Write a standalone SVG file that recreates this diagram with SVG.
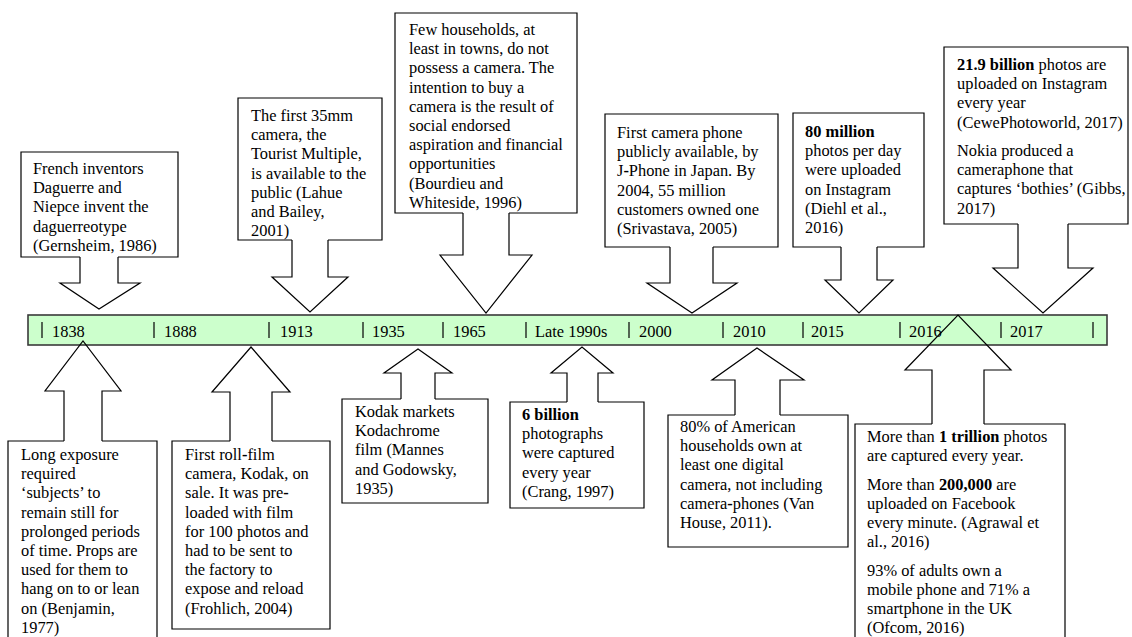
<svg xmlns="http://www.w3.org/2000/svg" width="1132" height="637" viewBox="0 0 1132 637">
<style>
.box{fill:#fff;stroke:#000;stroke-width:1.2;stroke-linejoin:miter}
.arr{fill:#fff;stroke:#000;stroke-width:1.2;stroke-linejoin:miter}
.open{fill:none}
.t{font-family:"Liberation Serif","Times New Roman",serif;font-size:16.4px;fill:#000}
.b{font-weight:bold}
.bar{fill:#ccffcc;stroke:#3a3a3a;stroke-width:1.6}
.tick{stroke:#000;stroke-width:1.2;fill:none}
</style>
<rect x="0" y="0" width="1132" height="637" fill="#fff"/>
<g id="timeline">
<rect class="bar" x="28" y="315" width="1079" height="30"/>
<path class="tick" d="M42 322V338M154 322V338M269 322V338M363 322V338M443 322V338M526 322V338M629 322V338M723 322V338M803 322V338M900 322V338M1001 322V338M1093 322V338"/>
<text class="t" y="337"><tspan x="52">1838</tspan><tspan x="164">1888</tspan><tspan x="280">1913</tspan><tspan x="372">1935</tspan><tspan x="453">1965</tspan><tspan x="535">Late 1990s</tspan><tspan x="639">2000</tspan><tspan x="733">2010</tspan><tspan x="811">2015</tspan><tspan x="909">2016</tspan><tspan x="1010">2017</tspan></text>
</g>
<g id="connectors">
<path class="arr" d="M80 257V283H60L99 309L140 283H118V257"/>
<path class="arr" d="M292 240V277H272L310 312L348 277H328V240"/>
<path class="arr" d="M463 213V255H440L486 313L532 255H509V213"/>
<path class="arr" d="M670 247V283H647L692 313L737 283H713V247"/>
<path class="arr" d="M841 247V280H825L859 313L893 280H877V247"/>
<path class="arr" d="M1018 224V268H993L1043 313L1093 268H1068V224"/>
<path class="arr open" d="M64 441V391H45L83 341L121 391H102V441"/>
<path class="arr" d="M230 441V392H212L251 347L290 392H272V441"/>
<path class="arr" d="M401 399V373H384L418 349L452 373H435V399"/>
<path class="arr" d="M567 402V373H551L582 347L613 373H598V402"/>
<path class="arr" d="M735 415V380H712L757 348L804 380H780V415"/>
<path class="arr open" d="M932 424V370H905L958 315L1011 370H984V424"/>
</g>
<g id="n1838-top">
<path class="box" d="M80 257H21V152H178V257H118"/>
<text class="t" x="33"><tspan x="33" y="174">French inventors</tspan><tspan x="33" y="193.2">Daguerre and</tspan><tspan x="33" y="212.4">Niepce invent the</tspan><tspan x="33" y="231.6">daguerreotype</tspan><tspan x="33" y="250.8">(Gernsheim, 1986)</tspan></text>
</g>
<g id="n1913">
<path class="box" d="M292 240H238V98H382V240H328"/>
<text class="t"><tspan x="251" y="121">The first 35mm</tspan><tspan x="251" y="140.2">camera, the</tspan><tspan x="251" y="159.4">Tourist Multiple,</tspan><tspan x="251" y="178.6">is available to the</tspan><tspan x="251" y="197.8">public (Lahue</tspan><tspan x="251" y="217">and Bailey,</tspan><tspan x="251" y="236.2">2001)</tspan></text>
</g>
<g id="n1965">
<path class="box" d="M463 213H395V13H577V213H509"/>
<text class="t"><tspan x="409" y="35">Few households, at</tspan><tspan x="409" y="54.2">least in towns, do not</tspan><tspan x="409" y="73.4">possess a camera. The</tspan><tspan x="409" y="92.6">intention to buy a</tspan><tspan x="409" y="111.8">camera is the result of</tspan><tspan x="409" y="131">social endorsed</tspan><tspan x="409" y="150.2">aspiration and financial</tspan><tspan x="409" y="169.4">opportunities</tspan><tspan x="409" y="188.6">(Bourdieu and</tspan><tspan x="409" y="207.8">Whiteside, 1996)</tspan></text>
</g>
<g id="n2000">
<path class="box" d="M670 247H605V114H778V247H713"/>
<text class="t"><tspan x="617" y="138">First camera phone</tspan><tspan x="617" y="157.2">publicly available, by</tspan><tspan x="617" y="176.4">J<tspan class="b">-</tspan>Phone in Japan. By</tspan><tspan x="617" y="195.6">2004, 55 million</tspan><tspan x="617" y="214.8">customers owned one</tspan><tspan x="617" y="234">(Srivastava, 2005)</tspan></text>
</g>
<g id="n2015">
<path class="box" d="M841 247H793V113H924V247H877"/>
<text class="t"><tspan x="805" y="137" class="b">80 million</tspan><tspan x="805" y="156.2">photos per day</tspan><tspan x="805" y="175.4">were uploaded</tspan><tspan x="805" y="194.6">on Instagram</tspan><tspan x="805" y="213.8">(Diehl et al.,</tspan><tspan x="805" y="233">2016)</tspan></text>
</g>
<g id="n2017">
<path class="box" d="M1018 224H944V47H1128V224H1068"/>
<text class="t"><tspan x="957" y="70"><tspan class="b">21.9 billion</tspan> photos are</tspan><tspan x="957" y="89.2">uploaded on Instagram</tspan><tspan x="957" y="108.4">every year</tspan><tspan x="957" y="127.6">(CewePhotoworld, 2017)</tspan><tspan x="957" y="156">Nokia produced a</tspan><tspan x="957" y="175.2">cameraphone that</tspan><tspan x="957" y="194.4">captures ‘bothies’ (Gibbs,</tspan><tspan x="957" y="213.6">2017)</tspan></text>
</g>
<g id="n1838-bottom">
<path class="box" d="M102 441H157V650H8V441H64"/>
<text class="t"><tspan x="21" y="460">Long exposure</tspan><tspan x="21" y="479.2">required</tspan><tspan x="21" y="498.4">‘subjects’ to</tspan><tspan x="21" y="517.6">remain still for</tspan><tspan x="21" y="536.8">prolonged periods</tspan><tspan x="21" y="556">of time. Props are</tspan><tspan x="21" y="575.2">used for them to</tspan><tspan x="21" y="594.4">hang on to or lean</tspan><tspan x="21" y="613.6">on (Benjamin,</tspan><tspan x="21" y="632.8">1977)</tspan></text>
</g>
<g id="n1888">
<path class="box" d="M272 441H330V629H172V441H230"/>
<text class="t"><tspan x="185" y="460">First roll<tspan class="b">-</tspan>film</tspan><tspan x="185" y="479.2">camera, Kodak, on</tspan><tspan x="185" y="498.4">sale. It was pre<tspan class="b">-</tspan></tspan><tspan x="185" y="517.6">loaded with film</tspan><tspan x="185" y="536.8">for 100 photos and</tspan><tspan x="185" y="556">had to be sent to</tspan><tspan x="185" y="575.2">the factory to</tspan><tspan x="185" y="594.4">expose and reload</tspan><tspan x="185" y="613.6">(Frohlich, 2004)</tspan></text>
</g>
<g id="n1935">
<path class="box" d="M435 399H488V503H342V399H401"/>
<text class="t"><tspan x="355" y="417">Kodak markets</tspan><tspan x="355" y="436.2">Kodachrome</tspan><tspan x="355" y="455.4">film (Mannes</tspan><tspan x="355" y="474.6">and Godowsky,</tspan><tspan x="355" y="493.8">1935)</tspan></text>
</g>
<g id="n1990s">
<path class="box" d="M598 402H644V508H510V402H567"/>
<text class="t"><tspan x="522" y="420" class="b">6 billion</tspan><tspan x="522" y="439.2">photographs</tspan><tspan x="522" y="458.4">were captured</tspan><tspan x="522" y="477.6">every year</tspan><tspan x="522" y="496.8">(Crang, 1997)</tspan></text>
</g>
<g id="n2010">
<path class="box" d="M780 415H848V547H668V415H735"/>
<text class="t"><tspan x="680" y="432">80% of American</tspan><tspan x="680" y="451.2">households own at</tspan><tspan x="680" y="470.4">least one digital</tspan><tspan x="680" y="489.6">camera, not including</tspan><tspan x="680" y="508.8">camera<tspan class="b">-</tspan>phones (Van</tspan><tspan x="680" y="528">House, 2011).</tspan></text>
</g>
<g id="n2016">
<path class="box" d="M984 424H1065V650H855V424H932"/>
<text class="t"><tspan x="867" y="442">More than <tspan class="b">1 trillion</tspan> photos</tspan><tspan x="867" y="461.2">are captured every year.</tspan><tspan x="867" y="489.6">More than <tspan class="b">200,000</tspan> are</tspan><tspan x="867" y="508.8">uploaded on Facebook</tspan><tspan x="867" y="528">every minute. (Agrawal et</tspan><tspan x="867" y="547.2">al., 2016)</tspan><tspan x="867" y="575.6">93% of adults own a</tspan><tspan x="867" y="594.8">mobile phone and 71% a</tspan><tspan x="867" y="614">smartphone in the UK</tspan><tspan x="867" y="633.2">(Ofcom, 2016)</tspan></text>
</g>
</svg>
